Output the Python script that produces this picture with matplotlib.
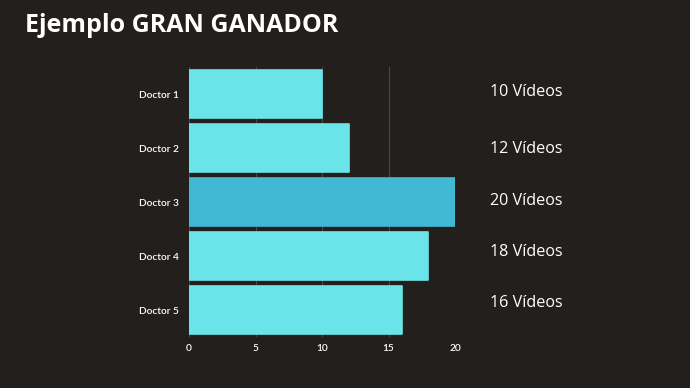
import matplotlib
matplotlib.use("Agg")
import matplotlib.pyplot as plt

categories = ["Doctor 1", "Doctor 2", "Doctor 3", "Doctor 4", "Doctor 5"]
values = [10, 12, 20, 18, 16]
labels = ["10 Vídeos", "12 Vídeos", "20 Vídeos", "18 Vídeos", "16 Vídeos"]
xticks = [0, 5, 10, 15, 20]

BG = "#221f1c"
BAR = "#6ae4e8"
HIGHLIGHT = "#41b8d4"

fig = plt.figure(figsize=(6.9, 3.88), dpi=100, facecolor=BG)
ax = fig.add_axes([189/690, 1-337/388, (455-189)/690, (337-67)/388])
ax.set_facecolor(BG)

ypos = list(range(len(categories)))
colors = [HIGHLIGHT if v == max(values) else BAR for v in values]
ax.barh(ypos, values, height=0.89, color=colors, edgecolor=colors,
        linewidth=1.2, joinstyle="round", zorder=3)
ax.set_ylim(len(categories) - 0.5, -0.5)
ax.set_xlim(0, 20)
ax.set_xticks(xticks)
ax.set_yticks(ypos)
ax.set_yticklabels(categories)
ax.grid(axis="x", color="#4a4643", linewidth=0.8, zorder=0)
ax.grid(axis="y", visible=False)
for s in ax.spines.values():
    s.set_visible(False)
ax.tick_params(length=0, colors="white", labelsize=7.3)
ax.tick_params(axis="y", pad=7)
ax.tick_params(axis="x", pad=5)
for t in ax.get_xticklabels() + ax.get_yticklabels():
    t.set_fontfamily("Lato")
    t.set_fontweight("semibold")

label_y = [92, 149, 201, 252, 303]
for lab, py in zip(labels, label_y):
    fig.text(490/690, 1 - py/388, lab, color="white", fontsize=11.6,
             family="Open Sans", ha="left", va="center")

fig.text(25/690, 1 - 25/388, "Ejemplo GRAN GANADOR", color="white",
         fontsize=18, fontweight="bold", family="Open Sans", ha="left", va="center")

fig.savefig("out.png", dpi=100, facecolor=BG)
